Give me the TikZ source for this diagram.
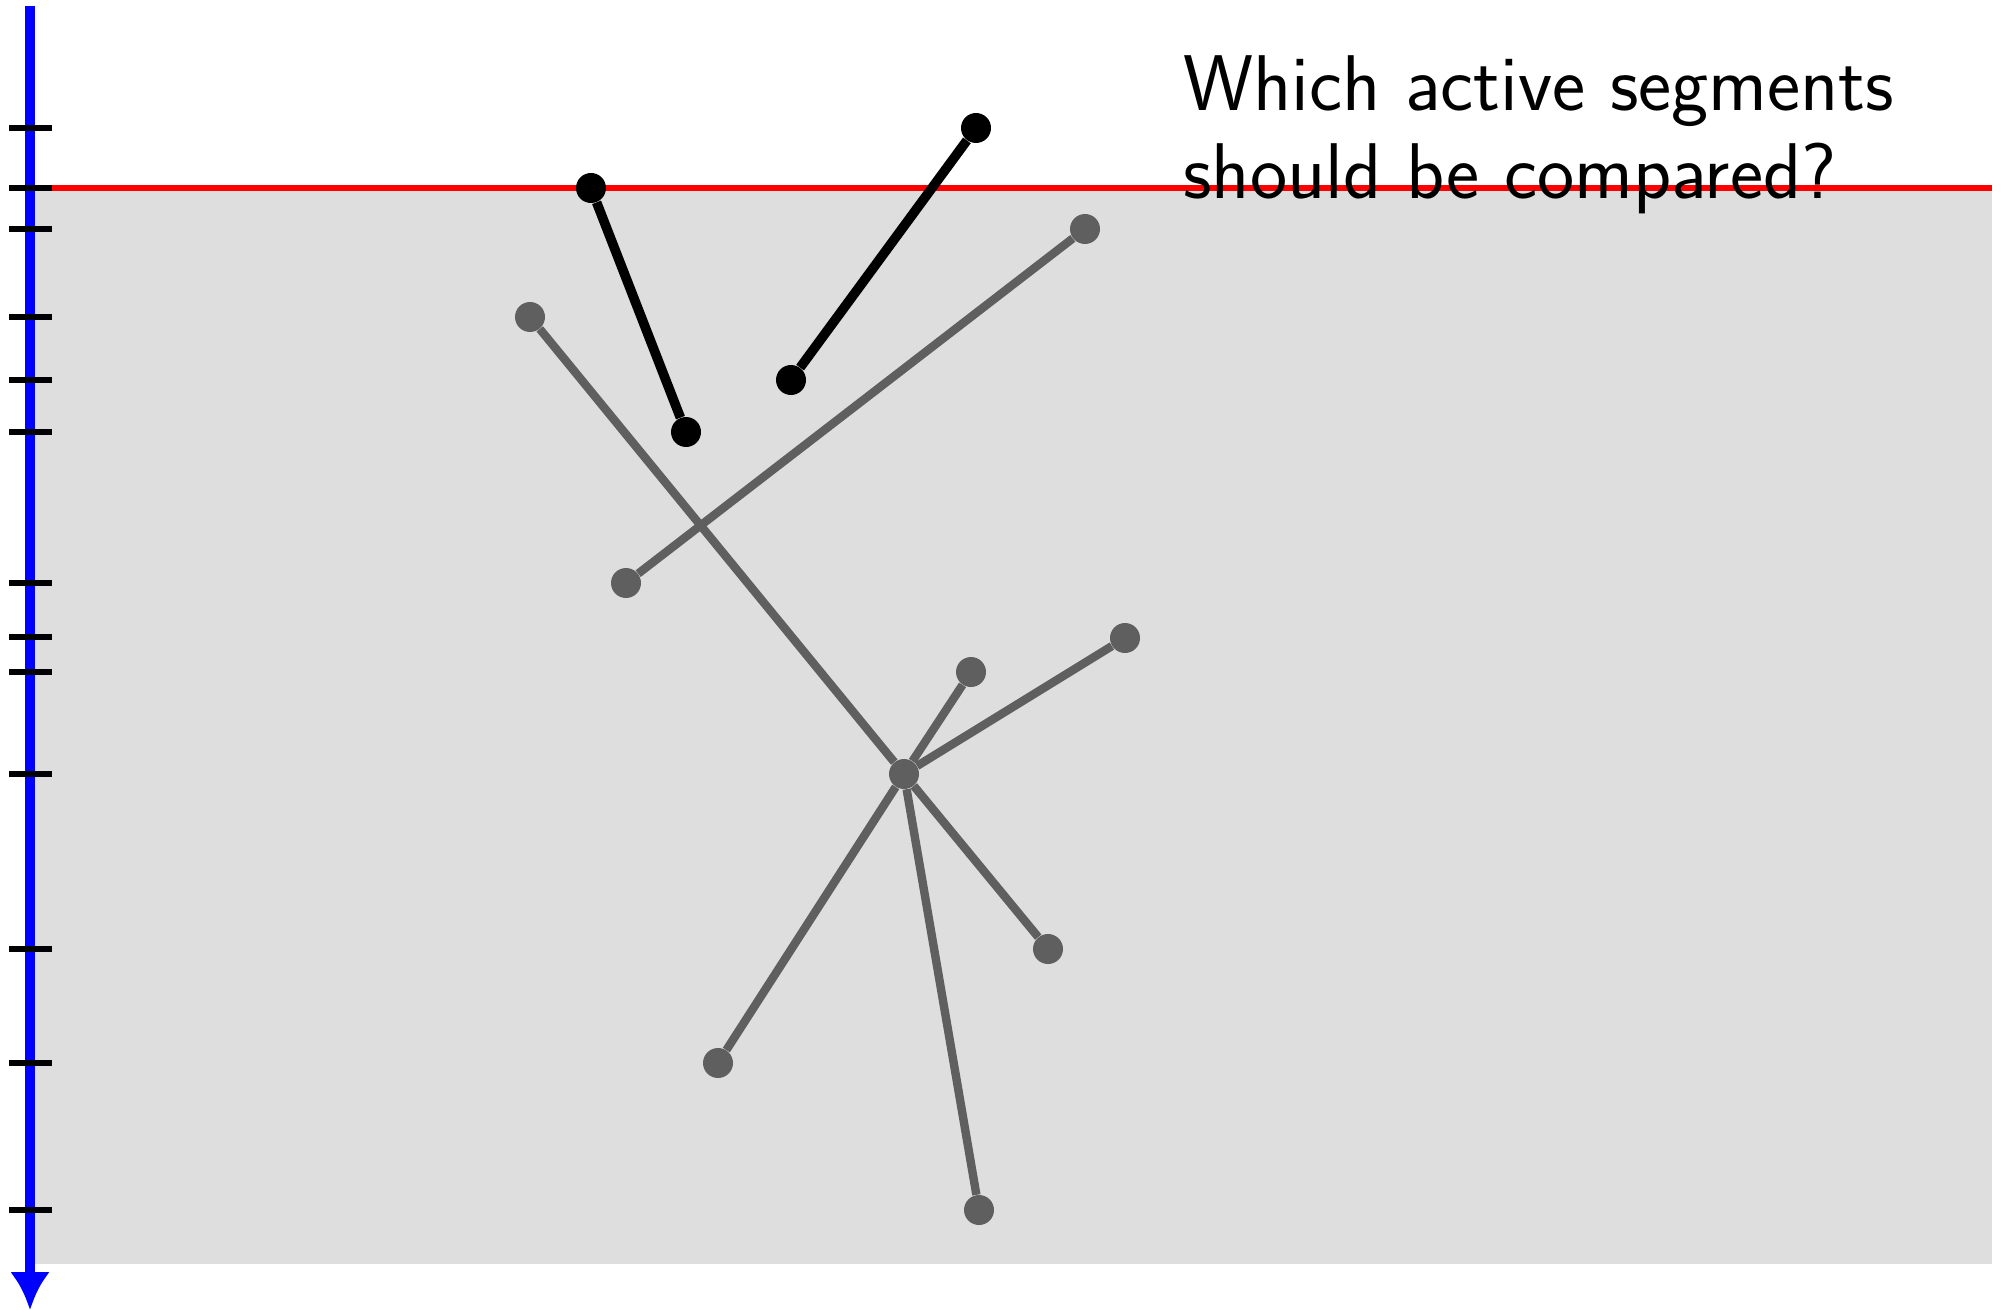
\documentclass[tikz,border=0pt]{standalone}
\usetikzlibrary{arrows.meta}
\definecolor{bggray}{HTML}{DEDEDE}
\definecolor{seggray}{HTML}{5F5F5F}
\begin{document}
\begin{tikzpicture}[x=0.5pt,y=-0.5pt,
  dotb/.style={circle,fill=black,inner sep=0pt,minimum size=15pt},
  dotg/.style={circle,fill=seggray,inner sep=0pt,minimum size=15pt},
  segb/.style={line width=4.8pt,black},
  segg/.style={line width=4.2pt,seggray},
  tickmark/.style={line width=3pt,black},
  sweep/.style={line width=3pt,red}]
\useasboundingbox (0,0) rectangle (2006,1310);
\fill[bggray] (30,188) rectangle (1992,1264);
\draw[sweep] (30,188) -- (1992,188);
% axis
\coordinate (top) at (30,6);
\coordinate (bot) at (30,1310);
\draw[blue,line width=5pt,-{Latex[length=19pt,width=20pt]}] (top) -- (bot);
\foreach \y in {128,188,229,317,380,432,583,637,672,774,949,1063,1210}
  \draw[tickmark] (9,\y) -- (52,\y);
% text
\node[anchor=base west,align=left,inner sep=0pt,font=\sffamily\fontsize{39.5}{44}\selectfont]
  (q) at (1183,199) {Which active segments\\should be compared?};
% black segments
\node[dotb] (a1) at (591,188) {};
\node[dotb] (a2) at (686,432) {};
\node[dotb] (b1) at (976,128) {};
\node[dotb] (b2) at (791,380) {};
\draw[segb] (a1) -- (a2);
\draw[segb] (b1) -- (b2);
% gray segments
\node[dotg] (c1) at (1085,229) {};
\node[dotg] (c2) at (626,583) {};
\node[dotg] (d1) at (530,317) {};
\node[dotg] (m) at (904,774) {};
\node[dotg] (e) at (971,672) {};
\node[dotg] (f) at (1125,638) {};
\node[dotg] (g) at (1048,949) {};
\node[dotg] (h) at (718,1063) {};
\node[dotg] (i) at (979,1210) {};
\draw[segg] (c1) -- (c2);
\draw[segg] (d1) -- (m);
\draw[segg] (m) -- (e);
\draw[segg] (m) -- (f);
\draw[segg] (m) -- (g);
\draw[segg] (m) -- (h);
\draw[segg] (m) -- (i);
\end{tikzpicture}
\end{document}
